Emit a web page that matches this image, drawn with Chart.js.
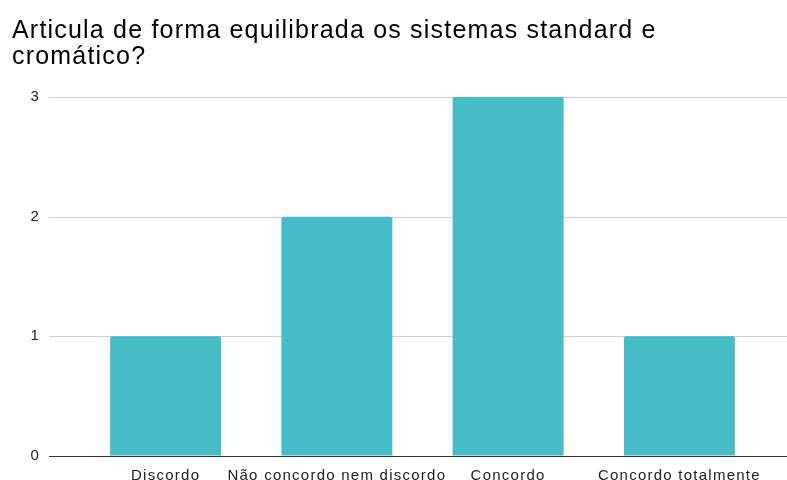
<!DOCTYPE html>
<html>
<head>
<meta charset="utf-8">
<script src="https://cdn.jsdelivr.net/npm/chart.js@4"></script>
<style>
  html, body { margin: 0; padding: 0; background: #fff; }
  #wrap { position: relative; width: 787px; height: 480px; }
  #title {
    position: absolute; left: 12px; top: 16px;
    font-family: "Liberation Sans", Arial, sans-serif;
    font-size: 25px; line-height: 26px; letter-spacing: 1.2px;
    color: #000;
  }
  canvas { position: absolute; left: 0; top: 0; }
</style>
</head>
<body>
<div id="wrap">
  <canvas id="chart" width="787" height="480"></canvas>
  <div id="title"></div>
</div>
<script>
const categories = ['Discordo', 'Não concordo nem discordo', 'Concordo', 'Concordo totalmente'];
const counts = [1, 2, 3, 1];
const yTicks = [0, 1, 2, 3];
const titleLines = ['Articula de forma equilibrada os sistemas standard e', 'cromático?'];

const FONT = '"Liberation Sans", Arial, sans-serif';

document.getElementById('title').innerHTML = titleLines.join('<br>');

// horizontal grid lines run wider than the bar area, so draw them here
const wideGrid = {
  id: 'wideGrid',
  beforeDraw(chart) {
    chart.ctx.letterSpacing = '1.25px';
  },
  beforeDatasetsDraw(chart) {
    const ctx = chart.ctx;
    const y = chart.scales.y;
    ctx.save();
    yTicks.forEach(function(v) {
      const py = Math.round(y.getPixelForValue(v)) + 0.5;
      ctx.beginPath();
      ctx.strokeStyle = v === 0 ? '#333333' : '#cccccc';
      ctx.lineWidth = 1;
      ctx.moveTo(49, py);
      ctx.lineTo(787, py);
      ctx.stroke();
    });
    ctx.restore();
  }
};

new Chart(document.getElementById('chart'), {
  type: 'bar',
  data: {
    labels: categories,
    datasets: [{
      data: counts,
      backgroundColor: '#46bdc6',
      borderRadius: 2,
      barPercentage: 0.648,
      categoryPercentage: 1
    }]
  },
  options: {
    responsive: false,
    devicePixelRatio: 1,
    animation: false,
    layout: { padding: { left: 12, right: 22, top: 97, bottom: 0 } },
    plugins: {
      legend: { display: false },
      tooltip: { enabled: false },
      title: { display: false }
    },
    scales: {
      x: {
        grid: { display: false },
        border: { display: false },
        ticks: {
          color: '#222222',
          font: { family: FONT, size: 15 },
          padding: 3,
          maxRotation: 0,
          autoSkip: false
        },
        afterFit(scale) { scale.height = 24; }
      },
      y: {
        min: 0,
        max: 3,
        grid: {
          display: true,
          drawOnChartArea: false,
          drawTicks: true,
          tickLength: 40,
          tickColor: 'rgba(0,0,0,0)'
        },
        border: { display: false },
        ticks: {
          stepSize: 1,
          color: '#222222',
          font: { family: FONT, size: 15 },
          padding: 0
        },
        afterFit(scale) { scale.width = 68; }
      }
    }
  },
  plugins: [wideGrid]
});
</script>
</body>
</html>
